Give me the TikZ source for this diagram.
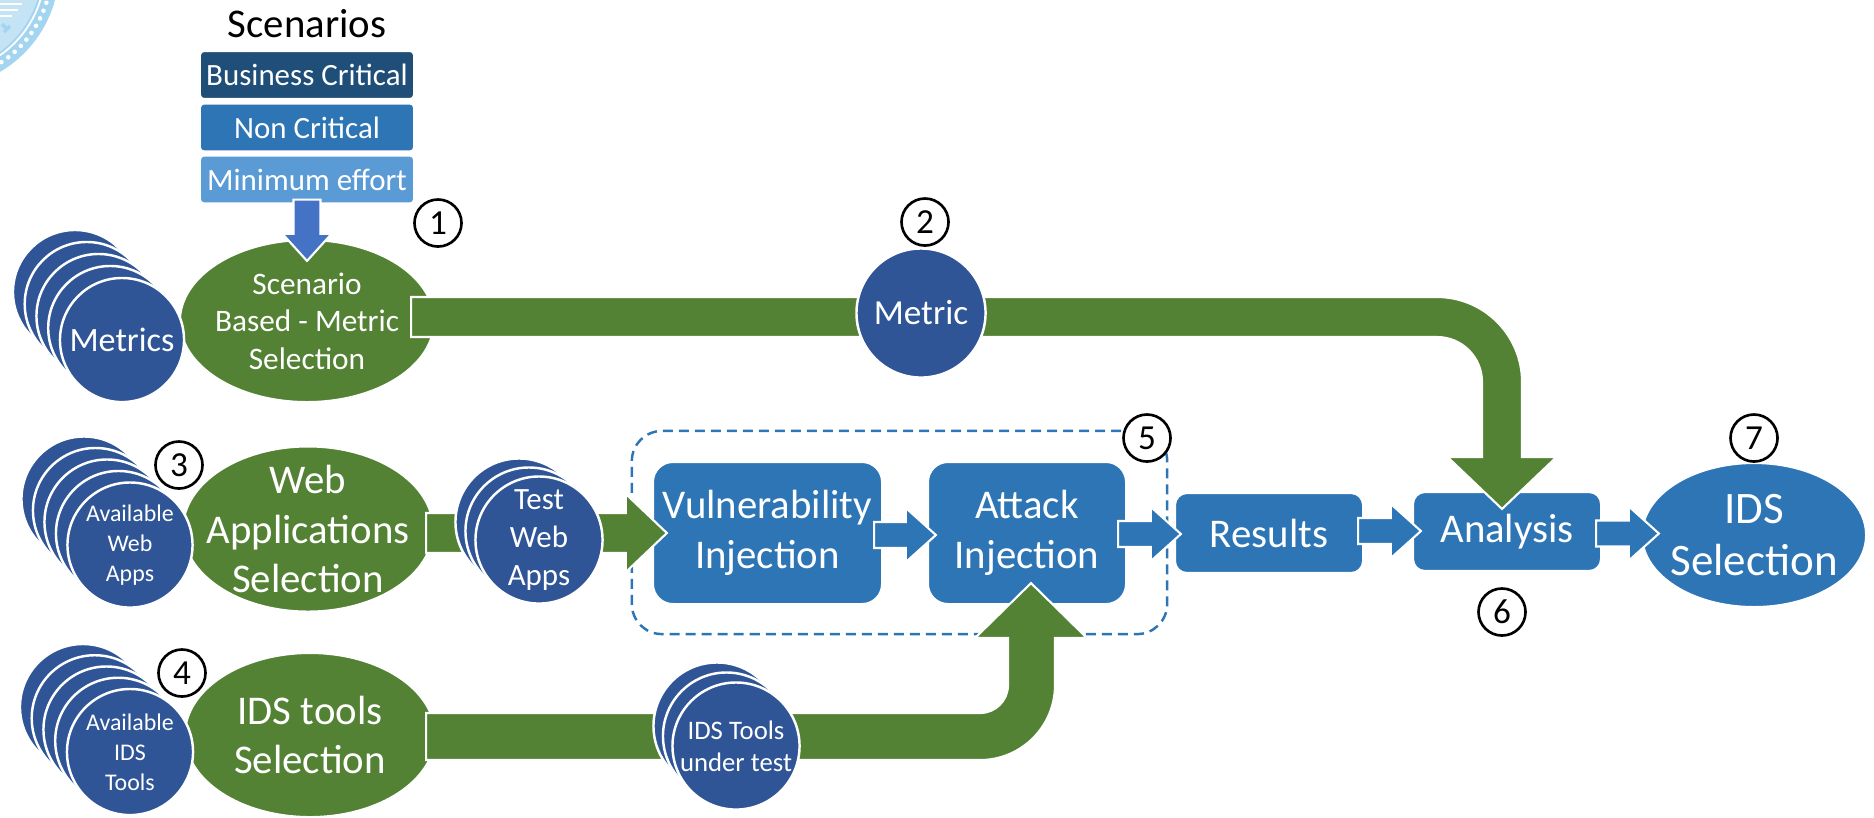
\documentclass[tikz,border=0pt]{standalone}
\usepackage{fontspec}
\setmainfont{Carlito}
\usetikzlibrary{calc,shapes.geometric}

\definecolor{pgreen}{HTML}{548235}
\definecolor{discblue}{HTML}{2F5597}
\definecolor{boxblue}{HTML}{2E75B6}
\definecolor{darkbox}{HTML}{1F4E79}
\definecolor{lightbox}{HTML}{5B9BD5}
\definecolor{arrowblue}{HTML}{4472C4}
\definecolor{sealblue}{HTML}{A3D4F0}
\definecolor{seallight}{HTML}{C4E4F6}

\newcommand\fs[2]{\fontsize{#1}{#2}\selectfont}

% right-pointing block arrow: style, start, tip, shaft half width, head half width, head length
\newcommand\rblock[6]{\filldraw[#1] ($(#2)+(0,-#4)$) -- ($(#3)+(-#6,-#4)$) -- ($(#3)+(-#6,-#5)$) -- (#3) -- ($(#3)+(-#6,#5)$) -- ($(#3)+(-#6,#4)$) -- ($(#2)+(0,#4)$) -- cycle;}
% downward block arrow, same arguments
\newcommand\dblock[6]{\filldraw[#1] ($(#2)+(-#4,0)$) -- ($(#3)+(-#4,-#6)$) -- ($(#3)+(-#5,-#6)$) -- (#3) -- ($(#3)+(#5,-#6)$) -- ($(#3)+(#4,-#6)$) -- ($(#2)+(#4,0)$) -- cycle;}
% a pile of discs: name, front centre, count, step x, step y, diameter
\newcommand\discstack[6]{%
  \foreach \k in {#3,...,1}{%
    \node[disc, minimum size=#6] (#1-\k) at ($(#2)+({(\k-1)*(#4)},{(\k-1)*(#5)})$) {};}}

\tikzset{
  outl/.style={draw=white, line width=0.6pt},
  disc/.style={circle, fill=discblue, draw=white, line width=0.7pt, inner sep=0pt},
  txt/.style={text=white, align=center, inner sep=0pt},
  scen/.style={rectangle, rounded corners=0.04cm, outl, text=white, inner sep=0pt,
    minimum width=2.14cm, minimum height=0.48cm, font=\fs{8.8}{10}},
  ell/.style={ellipse, outl, inner sep=0pt},
  rbox/.style={rectangle, fill=boxblue, outl, inner sep=0pt},
  gblock/.style={fill=pgreen, outl},
  bblock/.style={fill=boxblue, outl},
  sblock/.style={fill=arrowblue, outl},
  num/.style={circle, draw=black, line width=0.75pt, minimum size=0.47cm, inner sep=0pt,
    font=\fs{10}{12}},
  big/.style={txt, font=\fs{11.6}{14.1}},
}

\begin{document}
\begin{tikzpicture}[x=0.01cm, y=-0.01cm]
\useasboundingbox (0,0) rectangle (1874,817);

% seal in the corner
\begin{scope}
  \clip (0,0) rectangle (1874,817);
  \fill[sealblue] (-60,-31) circle (1.19cm);
  \draw[white, line width=1.3pt, dash pattern=on 0pt off 2.4pt, line cap=round] (-60,-31) circle (1.115cm);
  \draw[white, line width=0.5pt] (-60,-31) circle (1.05cm);
  \fill[seallight] (-60,-31) circle (1.02cm);
  \draw[white, line width=0.8pt] (0,4) -- (22,4) (0,10) -- (18,10) (0,16) -- (12,16);
  \draw[sealblue, line width=1pt] (2,24) -- (8,30) (4,32) -- (10,26);
\end{scope}

% scenario list
\node[font=\fs{11.6}{14}, anchor=base, inner sep=0pt] (title) at (307,37) {Scenarios};
\node[scen, fill=darkbox] (bus) at (307,75) {Business Critical};
\node[scen, fill=boxblue] (non) at (307,127.5) {Non Critical};
\node[scen, fill=lightbox] (min) at (307,179.5) {Minimum effort};

% selection ellipses
\node[ell, fill=pgreen, minimum width=2.54cm, minimum height=1.62cm] (sel) at (307,321) {};
\node[txt, font=\fs{8.9}{10.7}] (sel-t) at (sel) {Scenario\\Based - Metric\\Selection};
\node[ell, fill=pgreen, minimum width=2.50cm, minimum height=1.65cm] (web) at (308,529) {};
\node[big] (web-t) at (web) {Web\\Applications\\Selection};
\node[ell, fill=pgreen, minimum width=2.50cm, minimum height=1.64cm] (idst) at (310,735) {};
\node[big] (idst-t) at (idst) {IDS tools\\Selection};

% scenario arrow
\coordinate (sc-s) at ($(min.south)+(0,-5)$);
\coordinate (sc-t) at ($(sel.north)+(0,22)$);
\dblock{sblock}{sc-s}{sc-t}{13.5}{24.5}{27}

% input piles
\discstack{met}{122,340}{5}{-11.75}{-12}{1.24cm}
\node[txt, font=\fs{9.7}{11}] (met-t) at (met-1) {Metrics};
\discstack{awa}{130,545}{5}{-11.5}{-11.5}{1.25cm}
\node[txt, font=\fs{6.8}{8.5}] (awa-t) at (awa-1) {Available\\Web\\Apps};
\discstack{ait}{130,752}{5}{-11.75}{-11.25}{1.26cm}
\node[txt, font=\fs{6.8}{8.5}] (ait-t) at (ait-1) {Available\\IDS\\Tools};

% injection group and pipeline boxes
\node[rectangle, draw=boxblue, line width=0.7pt, dash pattern=on 0.1cm off 0.06cm,
  rounded corners=0.3cm, minimum width=5.35cm, minimum height=2.03cm] (grp) at (899.5,532.5) {};
\node[rbox, rounded corners=0.2cm, minimum width=2.29cm, minimum height=1.42cm] (vul) at (767.5,533) {};
\node[big] (vul-t) at (vul) {Vulnerability\\Injection};
\node[rbox, rounded corners=0.2cm, minimum width=1.98cm, minimum height=1.42cm] (att) at (1027,533) {};
\node[big] (att-t) at (att) {Attack\\Injection};
\node[rbox, rounded corners=0.12cm, minimum width=1.88cm, minimum height=0.80cm] (res) at (1269,533) {};
\node[big] (res-t) at (res) {Results};
\node[rbox, rounded corners=0.12cm, minimum width=1.88cm, minimum height=0.79cm] (ana) at (1507,531.5) {};
\node[big] (ana-t) at (ana) {Analysis};
\node[ell, fill=boxblue, minimum width=2.24cm, minimum height=1.44cm] (idss) at (1754,535) {};
\node[txt, font=\fs{12.8}{15}] (idss-t) at (idss) {IDS\\Selection};

% metric path
\coordinate (mt-s) at ($(sel.east)+(-24,-4)$);
\coordinate (mt-t) at ($(ana.north)+(-5,18)$);
\filldraw[gblock] ($(mt-s)+(0,-20)$) -- (1437,297)
  .. controls (1483.9,297) and (1522,335.1) .. (1522,382) -- (1522,457) -- (1556.5,457)
  -- (mt-t) -- (1447.5,457) -- (1482,457) -- (1482,382)
  .. controls (1482,357.1) and (1461.9,337) .. (1437,337) -- ($(mt-s)+(0,20)$) -- cycle;

% web application path
\coordinate (wa-s) at ($(web.east)+(-8,4)$);
\coordinate (wa-t) at ($(vul.west)+(15,0)$);
\rblock{gblock}{wa-s}{wa-t}{20}{39}{41}

% IDS tool path
\coordinate (it-s) at ($(idst.east)+(-10,1.5)$);
\coordinate (it-t) at ($(att.south)+(4,-22)$);
\filldraw[gblock] ($(it-s)+(0,-23.5)$) -- (980,713)
  .. controls (995.5,713) and (1008,700.5) .. (1008,685) -- (1008,638) -- (975,638)
  -- (it-t) -- (1087,638) -- (1055,638) -- (1055,685)
  .. controls (1055,726.4) and (1021.4,760) .. (980,760) -- ($(it-s)+(0,23.5)$) -- cycle;

% pipeline arrows
\coordinate (va-s) at ($(vul.east)+(-9,2)$);
\coordinate (va-t) at ($(att.west)+(9,2)$);
\rblock{bblock}{va-s}{va-t}{13}{27}{30}
\coordinate (ar-s) at ($(att.east)+(-9,1)$);
\coordinate (ar-t) at ($(res.west)+(7,1)$);
\rblock{bblock}{ar-s}{ar-t}{13}{27}{30}
\coordinate (ra-s) at ($(res.east)+(-6,-2)$);
\coordinate (ra-t) at ($(ana.west)+(9,-0.5)$);
\rblock{bblock}{ra-s}{ra-t}{13}{27}{30}
\coordinate (ai-s) at ($(ana.east)+(-6,2)$);
\coordinate (ai-t) at ($(idss.west)+(18,-1.5)$);
\rblock{bblock}{ai-s}{ai-t}{13}{27}{30}

% items carried along the paths
\node[disc, minimum size=1.29cm] (metric) at (921,313) {};
\node[txt, font=\fs{10}{12}] (metric-t) at (metric) {Metric};
\discstack{twa}{539,540}{3}{-10}{-9}{1.27cm}
\node[txt, font=\fs{8.8}{10.8}] (twa-t) at (twa-1) {Test\\Web\\Apps};
\discstack{iut}{736,746}{3}{-9.5}{-10}{1.27cm}
\node[txt, font=\fs{7.6}{9.1}] (iut-t) at (iut-1) {IDS Tools\\under test};

% step numbers
\node[num] (n1) at (438,223) {1};
\node[num] (n2) at (925,222) {2};
\node[num] (n3) at (179,465) {3};
\node[num] (n4) at (182,673) {4};
\node[num, fill=white] (n5) at (1147,438) {5};
\node[num] (n6) at (1502,612) {6};
\node[num] (n7) at (1754,438) {7};
\end{tikzpicture}
\end{document}
